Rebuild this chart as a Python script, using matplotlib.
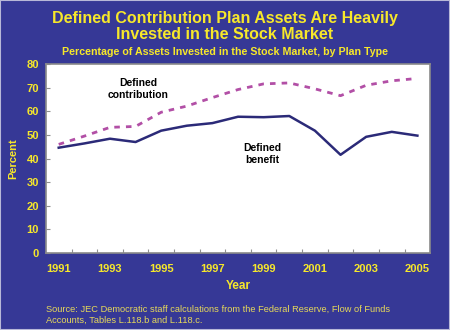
import matplotlib.pyplot as plt
from matplotlib.patches import Rectangle

plt.rcParams['font.family'] = ['Liberation Sans', 'DejaVu Sans']

years = list(range(1991, 2006))
contribution = [46.0, 49.5, 53.2, 53.6, 59.6, 62.2, 65.8, 69.2, 71.6, 72.0, 69.5, 66.6, 71.0, 72.9, 73.9]
benefit = [44.6, 46.4, 48.4, 47.0, 51.8, 53.9, 55.0, 57.7, 57.5, 58.0, 51.8, 41.6, 49.2, 51.3, 49.7]

bg = '#363896'
yellow = '#f7e82a'

fig = plt.figure(figsize=(4.5, 3.3), dpi=100, facecolor=bg)
fig.patches.append(Rectangle((0, 0), 1, 1, transform=fig.transFigure, fill=False,
                             edgecolor='#b8b8d8', linewidth=1.5))

ax = fig.add_axes([0.102, 0.233, 0.854, 0.573])
x = list(range(len(years)))
ax.plot(x, contribution, color='#b24fa6', lw=2, ls=(0, (2, 2.2)))
ax.plot(x, benefit, color='#2b2a78', lw=1.8)

ax.set_xlim(-0.5, len(years) - 0.5)
ax.set_ylim(0, 80)
ax.set_yticks(range(0, 81, 10))
ax.set_xticks([i + 0.5 for i in x[:-1]])
ax.set_xticklabels([])
ax.tick_params(axis='both', direction='in', length=3, color='#909090', width=0.8)
ax.tick_params(axis='y', labelcolor=yellow, labelsize=8, pad=5)
for lbl in ax.get_yticklabels():
    lbl.set_fontweight('bold')
for i, yr in enumerate(years):
    if i % 2 == 0:
        ax.text(i, -0.058, str(yr), transform=ax.get_xaxis_transform(), ha='center', va='top',
                color=yellow, fontsize=8, fontweight='bold')
for s in ax.spines.values():
    s.set_color('#8a8a8a')
    s.set_linewidth(1.2)

ax.set_ylabel('Percent', color=yellow, fontsize=8, fontweight='bold', labelpad=6)
ax.text(0.5, -0.175, 'Year', transform=ax.transAxes, ha='center', va='center',
        color=yellow, fontsize=8.5, fontweight='bold')

ax.text(3.1, 69.6, 'Defined\ncontribution', ha='center', va='center', fontsize=7.5,
        fontweight='bold', linespacing=1.25)
ax.text(7.94, 41.9, 'Defined\nbenefit', ha='center', va='center', fontsize=7.5,
        fontweight='bold', linespacing=1.25)

fig.text(0.5, 0.92, 'Defined Contribution Plan Assets Are Heavily\nInvested in the Stock Market',
         ha='center', va='center', color=yellow, fontsize=11.5, fontweight='bold', linespacing=1.15)
fig.text(0.5, 0.842, 'Percentage of Assets Invested in the Stock Market, by Plan Type',
         ha='center', va='center', color=yellow, fontsize=7.7, fontweight='bold')
fig.text(0.102, 0.047, 'Source: JEC Democratic staff calculations from the Federal Reserve, Flow of Funds\nAccounts, Tables L.118.b and L.118.c.',
         ha='left', va='center', color='#e6d85a', fontsize=6.7, linespacing=1.3)

fig.savefig('out.png', dpi=100, facecolor=bg)
